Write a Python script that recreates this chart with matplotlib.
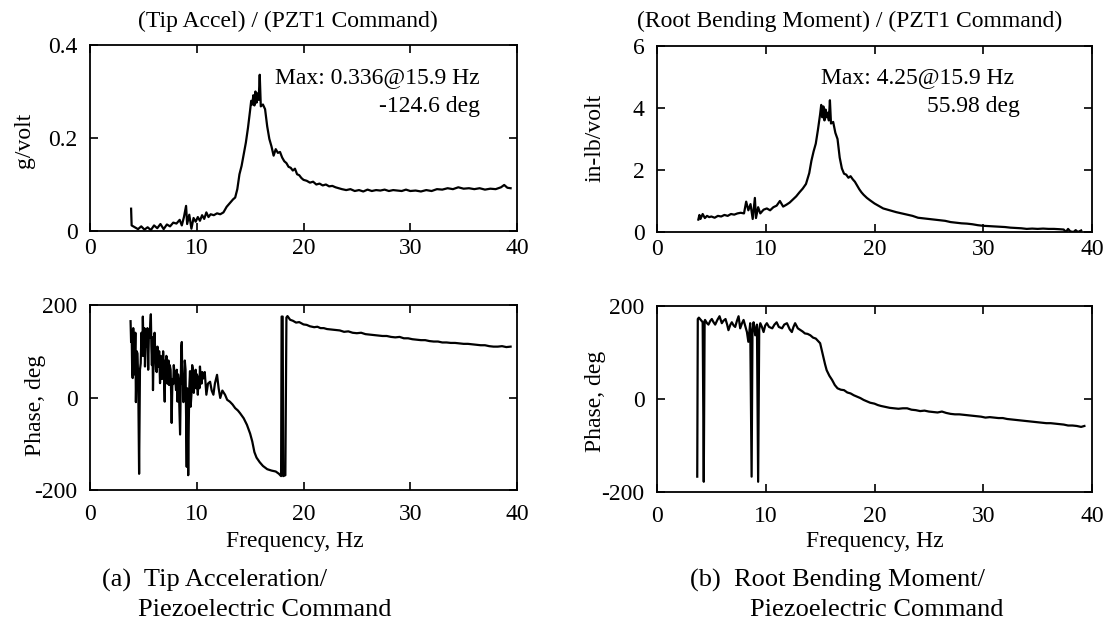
import matplotlib
matplotlib.use("Agg")
import matplotlib.pyplot as plt

plt.rcParams['font.family'] = ['Liberation Serif', 'DejaVu Serif']
plt.rcParams['axes.unicode_minus'] = False

# --- tip acceleration / PZT1 command, magnitude (g/volt)
tip_mag_f = [3.85, 3.9, 4.2, 4.5, 4.8, 5.1, 5.4, 5.7, 6.0, 6.3, 6.6, 6.9, 7.2, 7.5, 7.8,
             8.1, 8.4, 8.6, 8.8, 9.0, 9.1, 9.3, 9.5, 9.7, 9.9, 10.1, 10.3, 10.5, 10.7,
             10.9, 11.1, 11.3, 11.6, 11.9, 12.2, 12.5, 12.8, 13.1, 13.4, 13.6, 13.8,
             14.0, 14.2, 14.4, 14.6, 14.8, 15.0, 15.1, 15.2, 15.3, 15.4, 15.5, 15.6,
             15.7, 15.8, 15.9, 16.0, 16.2, 16.4, 16.6, 16.8, 17.0, 17.2, 17.4, 17.6,
             17.8, 18.0, 18.2, 18.4, 18.6, 18.8, 19.0, 19.2, 19.4, 19.6, 19.8, 20.0,
             20.3, 20.6, 20.9, 21.2, 21.5, 21.8, 22.1, 22.4, 22.7, 23.0, 23.3, 23.6,
             24.0, 24.4, 24.8, 25.2, 25.6, 26.0, 26.4, 26.8, 27.2, 27.6, 28.0, 28.4,
             28.8, 29.2, 29.6, 30.0, 30.5, 31.0, 31.5, 32.0, 32.5, 33.0, 33.5, 34.0,
             34.5, 35.0, 35.5, 36.0, 36.5, 37.0, 37.5, 38.0, 38.5, 38.8, 39.1, 39.4]
tip_mag = [0.048, 0.012, 0.008, 0.004, 0.010, 0.003, 0.008, 0.002, 0.012, 0.006, 0.015,
           0.004, 0.014, 0.010, 0.018, 0.016, 0.024, 0.012, 0.030, 0.054, 0.015, 0.035,
           0.005, 0.028, 0.020, 0.030, 0.022, 0.034, 0.026, 0.040, 0.030, 0.036, 0.034,
           0.038, 0.036, 0.040, 0.052, 0.060, 0.068, 0.072, 0.090, 0.122, 0.140, 0.165,
           0.190, 0.222, 0.260, 0.280, 0.272, 0.292, 0.270, 0.300, 0.276, 0.296, 0.282,
           0.336, 0.268, 0.272, 0.262, 0.225, 0.198, 0.182, 0.162, 0.176, 0.168, 0.170,
           0.158, 0.150, 0.146, 0.138, 0.136, 0.130, 0.134, 0.122, 0.120, 0.114, 0.110,
           0.108, 0.104, 0.106, 0.100, 0.102, 0.098, 0.100, 0.096, 0.097, 0.094, 0.092,
           0.090, 0.088, 0.090, 0.086, 0.088, 0.085, 0.089, 0.086, 0.088, 0.087, 0.089,
           0.086, 0.088, 0.087, 0.086, 0.089, 0.086, 0.087, 0.085, 0.088, 0.086, 0.090,
           0.089, 0.092, 0.090, 0.094, 0.091, 0.092, 0.090, 0.092, 0.089, 0.091, 0.090,
           0.094, 0.099, 0.093, 0.092]

# --- root bending moment / PZT1 command, magnitude (in-lb/volt)
root_mag_f = [3.8, 3.9, 4.0, 4.2, 4.4, 4.6, 4.8, 5.0, 5.3, 5.6, 5.9, 6.2, 6.5, 6.8, 7.1,
              7.4, 7.7, 8.0, 8.2, 8.4, 8.6, 8.8, 9.0, 9.1, 9.3, 9.5, 9.8, 10.1, 10.4,
              10.7, 11.0, 11.3, 11.6, 11.9, 12.2, 12.5, 12.8, 13.1, 13.4, 13.7, 14.0,
              14.2, 14.4, 14.6, 14.8, 15.0, 15.1, 15.2, 15.3, 15.4, 15.5, 15.6, 15.7,
              15.8, 15.9, 16.0, 16.2, 16.4, 16.6, 16.8, 17.0, 17.2, 17.4, 17.6, 17.8,
              18.0, 18.2, 18.4, 18.6, 18.8, 19.0, 19.3, 19.6, 20.0, 20.4, 20.8, 21.2,
              21.6, 22.0, 22.5, 23.0, 23.5, 24.0, 24.5, 25.0, 25.5, 26.0, 26.5, 27.0,
              27.5, 28.0, 28.5, 29.0, 29.5, 30.0, 30.5, 31.0, 31.5, 32.0, 32.5, 33.0,
              33.5, 34.0, 34.5, 35.0, 35.5, 36.0, 36.5, 37.0, 37.4, 37.6, 37.8, 38.0,
              38.3, 38.5, 38.7, 39.0]
root_mag = [0.40, 0.55, 0.42, 0.58, 0.45, 0.52, 0.48, 0.50, 0.46, 0.52, 0.50, 0.55, 0.52,
            0.58, 0.56, 0.60, 0.62, 0.60, 0.98, 0.70, 0.90, 0.42, 1.10, 0.45, 0.80, 0.60,
            0.72, 0.76, 0.70, 0.80, 0.85, 1.00, 0.82, 0.88, 0.95, 1.05, 1.15, 1.28, 1.40,
            1.55, 1.90, 2.30, 2.60, 2.85, 3.30, 3.80, 4.10, 3.70, 4.05, 3.60, 3.95, 3.70,
            3.85, 3.60, 4.25, 3.50, 3.55, 3.20, 3.00, 2.40, 2.05, 1.88, 1.85, 1.75, 1.80,
            1.70, 1.62, 1.50, 1.38, 1.28, 1.20, 1.10, 1.02, 0.92, 0.84, 0.76, 0.72, 0.68,
            0.64, 0.60, 0.56, 0.52, 0.46, 0.44, 0.42, 0.40, 0.38, 0.36, 0.32, 0.30, 0.28,
            0.27, 0.25, 0.22, 0.20, 0.19, 0.18, 0.17, 0.16, 0.14, 0.13, 0.12, 0.10, 0.11,
            0.10, 0.11, 0.10, 0.10, 0.09, 0.08, 0.00, 0.10, 0.02, 0.00, 0.06, 0.00, 0.05]

# --- tip acceleration phase (deg)
tip_ph_f = [3.8, 3.85, 3.9, 3.95, 4.0, 4.05, 4.1, 4.15, 4.2, 4.25, 4.3, 4.38, 4.45, 4.52,
            4.6, 4.68, 4.75, 4.82, 4.9, 4.95, 5.0, 5.05, 5.1, 5.15, 5.22, 5.3, 5.38, 5.45,
            5.52, 5.6, 5.65, 5.7, 5.75, 5.8, 5.85, 5.9, 5.95, 6.0, 6.05, 6.1, 6.18, 6.25,
            6.32, 6.4, 6.48, 6.56, 6.63, 6.7, 6.75, 6.8, 6.85, 6.9, 6.95, 7.0, 7.05, 7.1,
            7.15, 7.2, 7.25, 7.3, 7.35, 7.4, 7.47, 7.55, 7.6, 7.65, 7.72, 7.8, 7.85, 7.9,
            7.98, 8.06, 8.13, 8.2, 8.25, 8.3, 8.37, 8.44, 8.5, 8.55, 8.6, 8.65, 8.7, 8.75,
            8.8, 8.88, 8.95, 9.0, 9.06, 9.1, 9.15, 9.2, 9.25, 9.3, 9.37, 9.43, 9.5, 9.57,
            9.65, 9.72, 9.84, 9.9, 9.95, 10.02, 10.1, 10.15, 10.2, 10.25, 10.3, 10.38,
            10.45, 10.52, 10.6, 10.75, 10.9, 11.05, 11.25, 11.4, 11.56, 11.7, 11.9, 12.05,
            12.2, 12.4, 12.65, 12.85, 13.1, 13.35, 13.6, 13.85, 14.06, 14.4, 14.7, 15.0,
            15.2, 15.4, 15.6, 15.9, 16.2, 16.6, 17.0, 17.4, 17.7, 17.9, 17.95, 18.05,
            18.1, 18.3, 18.4, 18.5, 18.75, 19.0, 19.3, 19.6, 20.0, 20.3, 20.6, 21.0, 21.3,
            21.6, 21.9, 22.2, 22.6, 23.0, 23.4, 23.8, 24.2, 24.6, 25.0, 25.4, 25.8, 26.2,
            26.6, 27.0, 27.4, 27.8, 28.2, 28.6, 29.0, 29.4, 29.8, 30.2, 30.6, 31.0, 31.4,
            31.8, 32.2, 32.6, 33.0, 33.4, 33.8, 34.2, 34.6, 35.0, 35.4, 35.8, 36.2, 36.6,
            37.0, 37.4, 37.8, 38.2, 38.6, 39.0, 39.4]
tip_phase = [165, 120, 146, 60, 42, 150, 120, 50, 81, 140, -10, 100, 95, 30, -165, 60, 74,
             140, 90, 175, 120, 90, 150, 67, 130, 110, 150, 60, 140, 130, 160, 180, 110, 70,
             130, 16, 80, 95, 140, 103, 60, 55, 110, 67, 100, 31, 90, 85, 40, 52, 100, 70,
             30, -9, 80, 40, 90, 85, 30, 45, 80, 27, 70, 60, 10, -55, 40, 29, 70, 55, 40,
             16, 60, -9, 50, 40, -20, -80, 30, 110, 120, 30, 50, -10, 10, 80, 60, -30, -150,
             20, -40, -168, -60, 20, 57, -20, 6, 70, 60, 10, 49, 60, 20, 50, 6, 40, 45, 20,
             67, 40, 30, 55, 41, 55, 6, 30, 34, 15, 6, 30, 49, 20, -1, 15, 6, -5, -9, -15,
             -23, -28, -34, -45, -59, -78, -95, -118, -130, -140, -148, -155, -158, -160,
             -165, -170, 175, 175, -170, -168, 173, 176, 168, 166, 162, 163, 158, 157, 154,
             152, 153, 150, 150, 148, 147, 146, 145, 142, 143, 140, 139, 140, 137, 136, 135,
             134, 133, 133, 131, 130, 131, 128, 128, 126, 125, 124, 124, 122, 121, 121, 119,
             119, 118, 118, 117, 116, 116, 115, 114, 113, 113, 111, 110, 110, 111, 109, 110]

# --- root bending moment phase (deg)
root_ph_f = [3.7, 3.75, 3.85, 3.96, 4.1, 4.2, 4.3, 4.38, 4.42, 4.6, 4.73, 4.9, 5.04, 5.2,
             5.35, 5.55, 5.75, 5.96, 6.1, 6.3, 6.45, 6.57, 6.75, 6.88, 7.05, 7.19, 7.35,
             7.5, 7.65, 7.8, 7.96, 8.1, 8.27, 8.4, 8.57, 8.7, 8.78, 8.88, 9.03, 9.19, 9.3,
             9.4, 9.5, 9.65, 9.8, 9.95, 10.1, 10.3, 10.6, 10.8, 11.0, 11.2, 11.5, 11.7,
             11.95, 12.2, 12.4, 12.55, 12.7, 12.95, 13.2, 13.4, 13.6, 13.85, 14.1, 14.35,
             14.6, 14.8, 15.0, 15.15, 15.3, 15.45, 15.6, 15.85, 16.1, 16.35, 16.6, 16.9,
             17.2, 17.5, 17.8, 18.1, 18.4, 18.7, 19.0, 19.3, 19.6, 20.0, 20.3, 20.6, 21.0,
             21.4, 21.8, 22.2, 22.6, 23.0, 23.4, 23.8, 24.2, 24.6, 25.0, 25.4, 25.8, 26.2,
             26.6, 27.0, 27.4, 27.8, 28.2, 28.6, 29.0, 29.4, 29.8, 30.2, 30.6, 31.0, 31.4,
             31.8, 32.2, 32.6, 33.0, 33.4, 33.8, 34.2, 34.6, 35.0, 35.4, 35.8, 36.2, 36.6,
             37.0, 37.4, 37.8, 38.2, 38.6, 39.0, 39.3]
root_phase = [-167, 172, 175, 172, 168, 165, -178, 168, 170, 163, 160, 168, 172, 165, 160,
              170, 178, 163, 168, 172, 160, 148, 160, 165, 158, 155, 168, 178, 152, 162,
              170, 158, 144, 123, 163, -167, 150, 165, 137, 160, -178, 150, 163, 155, 144,
              158, 163, 155, 152, 160, 165, 155, 152, 160, 163, 150, 144, 155, 163, 152,
              148, 145, 141, 140, 137, 132, 130, 125, 120, 105, 91, 75, 62, 50, 41, 30, 23,
              20, 19, 14, 12, 8, 5, 2, -2, -5, -8, -10, -13, -15, -17, -19, -20, -21, -20,
              -20, -23, -24, -26, -25, -27, -28, -29, -27, -30, -32, -33, -33, -34, -35,
              -36, -37, -38, -40, -39, -40, -41, -41, -43, -44, -45, -46, -47, -48, -49,
              -50, -51, -52, -52, -53, -54, -55, -57, -57, -58, -60, -58]

W, H = 1109, 625


def box(x0, x1, ytop, ybot):
    return [x0 / W, 1 - ybot / H, (x1 - x0) / W, (ybot - ytop) / H]


def fx(x):
    return x / W


def fy(y):
    return 1 - y / H


fig = plt.figure(figsize=(W / 100, H / 100), dpi=100)
ax1 = fig.add_axes(box(90, 517, 45, 231))
ax2 = fig.add_axes(box(657, 1092, 46, 232))
ax3 = fig.add_axes(box(90, 517, 305, 490))
ax4 = fig.add_axes(box(657, 1092, 306, 492))

lw = 1.6
ax1.plot(tip_mag_f, tip_mag, color='black', lw=lw)
ax2.plot(root_mag_f, root_mag, color='black', lw=lw)
ax3.plot(tip_ph_f, tip_phase, color='black', lw=lw)
ax4.plot(root_ph_f, root_phase, color='black', lw=lw)

ax1.set_ylim(0, 0.4)
ax1.set_yticks([0, 0.2, 0.4])
ax1.set_yticklabels(['0', '0.2', '0.4'])
ax2.set_ylim(0, 6)
ax2.set_yticks([0, 2, 4, 6])
for ax in (ax3, ax4):
    ax.set_ylim(-200, 200)
    ax.set_yticks([-200, 0, 200])

for ax in (ax1, ax2, ax3, ax4):
    ax.set_xlim(0, 40)
    ax.set_xticks([0, 10, 20, 30, 40])
    ax.tick_params(direction='in', top=True, right=True, length=6, width=1.2,
                   labelsize=17, pad=9)
    for s in ax.spines.values():
        s.set_linewidth(1.3)
for ax in (ax1, ax2):
    ax.tick_params(axis='x', pad=5)
for ax in (ax3, ax4):
    ax.tick_params(axis='x', pad=10)

# annotations of the peak
ax1.text(36.5, 0.318, 'Max: 0.336@15.9 Hz', ha='right', va='baseline', fontsize=17)
ax1.text(36.5, 0.256, '-124.6 deg', ha='right', va='baseline', fontsize=17)
ax2.text(32.8, 4.81, 'Max: 4.25@15.9 Hz', ha='right', va='baseline', fontsize=17)
ax2.text(33.4, 3.87, '55.98 deg', ha='right', va='baseline', fontsize=17)

# titles above the magnitude plots
fig.text(fx(288), fy(21), '(Tip Accel) / (PZT1 Command)', ha='center', va='center', fontsize=17)
fig.text(fx(850), fy(21), '(Root Bending Moment) / (PZT1 Command)', ha='center', va='center',
         fontsize=17)

# axis labels
fig.text(fx(25), fy(140), 'g/volt', rotation=90, ha='center', va='center', fontsize=17)
fig.text(fx(595), fy(138), 'in-lb/volt', rotation=90, ha='center', va='center', fontsize=17)
fig.text(fx(36), fy(405), 'Phase, deg', rotation=90, ha='center', va='center', fontsize=17)
fig.text(fx(595), fy(401), 'Phase, deg', rotation=90, ha='center', va='center', fontsize=17)
fig.text(fx(295), fy(541), 'Frequency, Hz', ha='center', va='center', fontsize=17)
fig.text(fx(875), fy(541), 'Frequency, Hz', ha='center', va='center', fontsize=17)

# captions
fig.text(fx(102), fy(580), '(a)  Tip Acceleration/', ha='left', va='center', fontsize=19)
fig.text(fx(138), fy(610), 'Piezoelectric Command', ha='left', va='center', fontsize=19)
fig.text(fx(690), fy(580), '(b)  Root Bending Moment/', ha='left', va='center', fontsize=19)
fig.text(fx(750), fy(610), 'Piezoelectric Command', ha='left', va='center', fontsize=19)

fig.savefig('out.png', dpi=100)
